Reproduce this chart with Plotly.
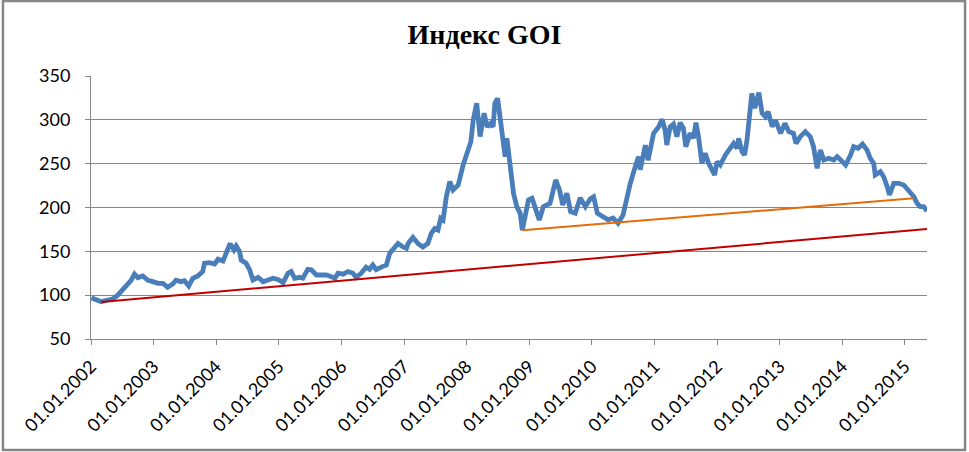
import plotly.graph_objects as go

# GOI index
goi_dates = [
    "2002-01-03", "2002-02-01", "2002-03-01", "2002-04-09", "2002-05-08", "2002-06-06",
    "2002-07-05", "2002-08-04", "2002-08-23", "2002-09-12", "2002-10-01", "2002-10-30",
    "2002-11-29", "2002-12-28", "2003-01-27", "2003-02-25", "2003-03-24", "2003-04-23",
    "2003-05-12", "2003-06-10", "2003-06-30", "2003-07-25", "2003-08-18", "2003-09-16",
    "2003-10-15", "2003-10-25", "2003-11-24", "2003-12-23", "2004-01-12", "2004-02-10",
    "2004-03-01", "2004-03-19", "2004-03-28", "2004-04-14", "2004-04-27", "2004-05-17",
    "2004-05-26", "2004-06-24", "2004-07-14", "2004-08-03", "2004-09-02", "2004-10-01",
    "2004-10-30", "2004-11-28", "2004-12-27", "2005-01-26", "2005-02-23", "2005-03-14",
    "2005-04-03", "2005-05-02", "2005-05-21", "2005-06-19", "2005-07-09", "2005-08-08",
    "2005-09-06", "2005-10-05", "2005-11-04", "2005-11-24", "2005-12-12", "2006-01-11",
    "2006-02-09", "2006-03-09", "2006-03-28", "2006-04-26", "2006-05-25", "2006-06-14",
    "2006-07-03", "2006-07-23", "2006-08-21", "2006-09-20", "2006-10-10", "2006-11-27",
    "2006-12-26", "2007-01-15", "2007-01-25", "2007-02-22", "2007-03-23", "2007-04-21",
    "2007-05-20", "2007-06-09", "2007-06-29", "2007-07-18", "2007-08-03", "2007-08-17",
    "2007-09-05", "2007-09-25", "2007-10-14", "2007-11-13", "2007-12-12", "2008-01-10",
    "2008-01-26", "2008-02-09", "2008-02-29", "2008-03-20", "2008-04-12", "2008-05-01",
    "2008-05-21", "2008-06-04", "2008-06-14", "2008-06-30", "2008-07-23", "2008-08-13",
    "2008-08-23", "2008-09-12", "2008-10-01", "2008-10-20", "2008-11-09", "2008-11-21",
    "2008-12-27", "2009-01-17", "2009-02-05", "2009-02-28", "2009-03-24", "2009-05-02",
    "2009-06-04", "2009-06-26", "2009-07-15", "2009-08-08", "2009-08-30", "2009-09-26",
    "2009-10-25", "2009-11-24", "2009-12-23", "2010-01-11", "2010-02-02", "2010-03-09",
    "2010-04-06", "2010-05-05", "2010-06-03", "2010-07-02", "2010-07-24", "2010-08-13",
    "2010-09-11", "2010-09-30", "2010-10-10", "2010-11-09", "2010-11-25", "2010-12-08",
    "2010-12-27", "2011-01-26", "2011-02-15", "2011-03-04", "2011-03-14", "2011-04-03",
    "2011-04-22", "2011-05-12", "2011-05-31", "2011-06-19", "2011-07-03", "2011-07-28",
    "2011-08-17", "2011-08-31", "2011-09-15", "2011-10-05", "2011-10-24", "2011-11-13",
    "2011-12-03", "2011-12-18", "2012-01-01", "2012-01-20", "2012-02-19", "2012-03-18",
    "2012-04-07", "2012-04-27", "2012-05-06", "2012-05-26", "2012-06-10", "2012-06-24",
    "2012-07-08", "2012-07-22", "2012-08-08", "2012-09-01", "2012-09-20", "2012-10-09",
    "2012-10-25", "2012-11-18", "2012-12-07", "2013-01-06", "2013-01-31", "2013-02-23",
    "2013-03-22", "2013-04-06", "2013-05-01", "2013-05-30", "2013-06-28", "2013-07-17",
    "2013-08-07", "2013-08-26", "2013-09-15", "2013-10-14", "2013-11-12", "2013-12-02",
    "2014-01-01", "2014-01-20", "2014-02-18", "2014-03-08", "2014-04-03", "2014-04-29",
    "2014-05-25", "2014-06-13", "2014-07-03", "2014-07-12", "2014-08-11", "2014-08-30",
    "2014-09-20", "2014-10-03", "2014-10-28", "2014-11-26", "2014-12-25", "2015-01-21",
    "2015-02-23", "2015-03-13", "2015-04-01", "2015-04-20", "2015-05-10",
]
goi_values = [
    97, 94.5, 92.5, 94.5, 95.6, 100,
    106, 111.6, 117, 124, 120, 122,
    117, 115.4, 113.5, 113.5, 109, 112.8,
    117, 115.4, 116.5, 110.5, 119.3, 122,
    127, 136.4, 137, 135.6, 141, 139,
    147.8, 157.3, 157, 151.5, 156, 149.6,
    140, 136.4, 129, 117.3, 120.4, 115.4,
    117.3, 119.3, 118, 114.3, 125, 127,
    119.3, 120.4, 119.3, 129.5, 129, 123,
    123, 123, 121, 119.3, 125, 124,
    127, 125, 120.4, 125, 132, 129.6,
    134.4, 129, 132, 134.4, 147.8, 159,
    155, 153.5, 159, 166, 159, 155,
    159, 170.5, 176, 174.3, 187.7, 185.8,
    212.3, 229.5, 220, 225.7, 248.5, 263.7,
    275, 300, 319, 281, 307.5, 292,
    296, 292, 319, 324.5, 285, 258,
    279, 250, 216, 201, 193.4, 174,
    208.6, 210.5, 201, 185.8, 201, 204.8,
    231.4, 220, 203, 216.2, 195.2, 193.4,
    211, 201, 210, 212.3, 193.4, 189.5,
    186, 188, 182, 191.5, 212.3, 227.6,
    246.6, 258, 243, 271, 254, 269.4,
    284.6, 292.2, 300.6, 288.4, 271.3, 292.2,
    295.3, 280.8, 296.8, 290.3, 269.4, 284.6,
    279, 296.8, 280.8, 250.4, 261.8, 250.4,
    242.8, 237.1, 252.3, 248.5, 259.9, 267.5,
    273.2, 267.5, 279, 263.7, 259.9, 277,
    307.5, 330, 313.2, 331, 307.5, 303.6,
    309.3, 292.2, 299.8, 284.6, 296, 286.5,
    284.6, 273.2, 280.8, 286.5, 280.8, 269.4,
    244.7, 265.6, 254.2, 256.1, 254.2, 258,
    252.3, 248.5, 259.9, 269.4, 267.5, 272.4,
    265.6, 256.1, 250.4, 237.1, 240.9, 235.1,
    223.7, 214.3, 227.6, 227.6, 225.7, 220,
    212.3, 204.8, 201, 201, 196,
]

# Trend lines
red_dates = ["2002-03-01", "2015-05-10"]
red_values = [92.2, 175.5]
orange_dates = ["2008-11-21", "2015-02-21"]
orange_values = [174, 210.5]

tick_dates = ["%d-01-01" % y for y in range(2002, 2016)]
tick_labels = ["01.01.%d" % y for y in range(2002, 2016)]

fig = go.Figure()
fig.add_trace(go.Scatter(x=goi_dates, y=goi_values, mode="lines",
                         line=dict(color="#4A7EBB", width=4.8), showlegend=False))
fig.add_trace(go.Scatter(x=red_dates, y=red_values, mode="lines",
                         line=dict(color="#C00000", width=2), showlegend=False))
fig.add_trace(go.Scatter(x=orange_dates, y=orange_values, mode="lines",
                         line=dict(color="#E46C0A", width=2), showlegend=False))

axis_font = dict(family="Lato", size=18, color="#000000")

fig.update_layout(
    width=969, height=452,
    margin=dict(l=91, r=42, t=76, b=113),
    paper_bgcolor="white", plot_bgcolor="white",
    title=dict(text="<b>Индекс GOI</b>", x=0.5, xanchor="center", y=0.925, yanchor="middle",
               font=dict(family="Liberation Serif", size=28, color="#000000")),
    xaxis=dict(type="date", range=["2002-01-01", "2015-05-10"],
               tickvals=tick_dates, ticktext=tick_labels, tickangle=-45,
               showgrid=False, showline=True, linecolor="#868686", linewidth=1,
               ticks="outside", ticklen=5, tickcolor="#868686",
               tickfont=axis_font, ticklabelstandoff=4),
    yaxis=dict(range=[50, 350], tickvals=[50, 100, 150, 200, 250, 300, 350],
               showgrid=True, gridcolor="#868686", gridwidth=1,
               showline=True, linecolor="#868686", linewidth=1,
               ticks="outside", ticklen=5, tickcolor="#868686",
               tickfont=axis_font, ticklabelstandoff=11, zeroline=False),
    shapes=[dict(type="rect", xref="paper", yref="paper",
                 x0=-0.1053, x1=1.0455, y0=-0.4221, y1=1.2852,
                 line=dict(color="#868686", width=2.5), layer="below")],
)

fig.write_html("out.html", config={"displayModeBar": False},
               post_script="document.body.style.margin='0';document.body.style.overflow='hidden';")
